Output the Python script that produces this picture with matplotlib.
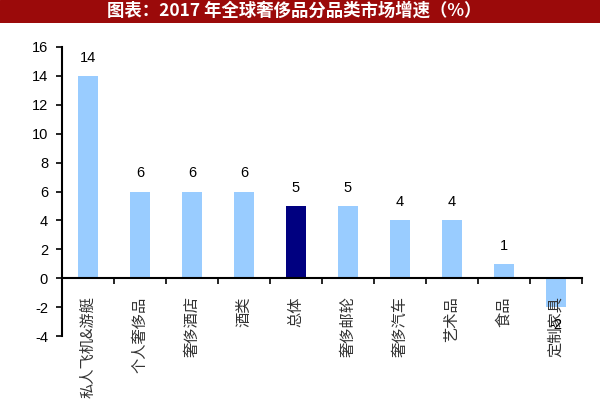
import matplotlib
matplotlib.use("Agg")
import matplotlib.pyplot as plt
import numpy as np

plt.rcParams['font.family'] = ['Noto Sans CJK SC', 'DejaVu Sans']

categories = ["私人飞机&游艇", "个人奢侈品", "奢侈酒店", "酒类", "总体",
              "奢侈邮轮", "奢侈汽车", "艺术品", "食品", "定制家具"]
values = [14, 6, 6, 6, 5, 5, 4, 4, 1, -2]
highlight = "总体"
title = "图表：2017 年全球奢侈品分品类市场增速（%）"
yticks = [-4, -2, 0, 2, 4, 6, 8, 10, 12, 14, 16]

light = "#99CCFF"
dark = "#000080"
num_font = ["Liberation Sans", "DejaVu Sans"]

fig = plt.figure(figsize=(6, 4), dpi=100)
fig.patch.set_facecolor("white")

# title bar
bar_ax = fig.add_axes([0, 1 - 23 / 400, 1, 23 / 400])
bar_ax.set_xlim(0, 1)
bar_ax.set_ylim(0, 1)
bar_ax.axis("off")
bar_ax.add_patch(plt.Rectangle((0, 0), 1, 1, color="#9B0A0A"))
bar_ax.text(0.49, 0.55, title, color="white", fontsize=12.5, fontweight="bold",
            ha="center", va="center")

ax = fig.add_axes([62 / 600, 1 - 336 / 400, 520 / 600, (336 - 47) / 400])
x = np.arange(len(categories))
colors = [dark if c == highlight else light for c in categories]
ax.bar(x, values, width=0.38, color=colors, zorder=2)

ax.set_xlim(-0.5, len(categories) - 0.5)
ax.set_ylim(-4, 16)
ax.set_yticks(yticks)
ax.set_yticklabels([str(t) for t in yticks], fontsize=10.5, fontfamily=num_font)

ax.spines["top"].set_visible(False)
ax.spines["right"].set_visible(False)
ax.spines["bottom"].set_position(("data", 0))
ax.spines["left"].set_linewidth(1.5)
ax.spines["bottom"].set_linewidth(1.5)

ax.set_xticks(np.arange(len(categories) + 1) - 0.5)
ax.set_xticklabels([])
ax.tick_params(axis="x", which="major", direction="out", length=4, width=1.2)
ax.tick_params(axis="y", direction="out", length=4, width=1.2, pad=6)

for i, c in enumerate(categories):
    ax.annotate(c, xy=(i, 0), xytext=(0, -13), textcoords="offset points",
                rotation=90, ha="center", va="top", fontsize=11,
                annotation_clip=False, color="#333333")

for i, v in enumerate(values):
    off = 8 if v >= 0 else -8
    ax.annotate(str(v), xy=(i, v), xytext=(0, off), textcoords="offset points",
                ha="center", va="bottom" if v >= 0 else "top", fontsize=10.5,
                fontfamily=num_font, annotation_clip=False)

fig.savefig("out.png", dpi=100, facecolor="white")
